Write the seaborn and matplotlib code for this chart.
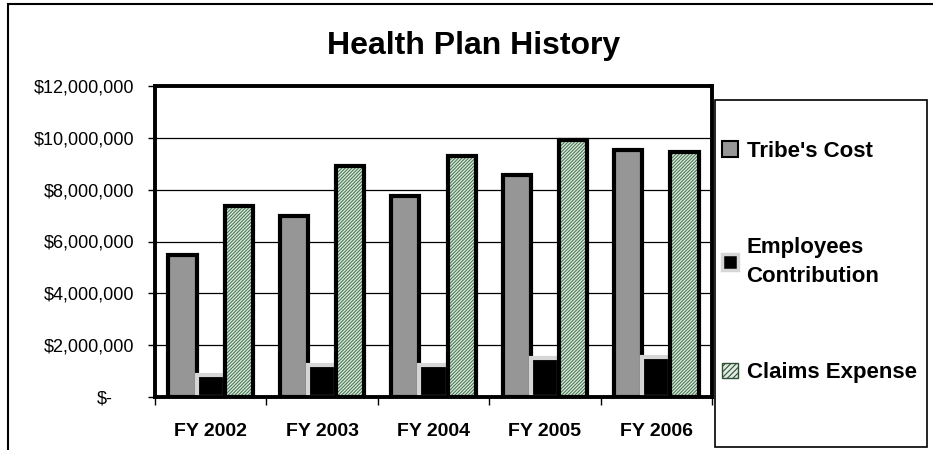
import numpy as np
import pandas as pd
import matplotlib
matplotlib.use("Agg")
import matplotlib.pyplot as plt
import matplotlib.transforms as mtransforms
from matplotlib.patches import Rectangle, Patch
from matplotlib.ticker import FuncFormatter
import seaborn as sns

# data
years = ["FY 2002", "FY 2003", "FY 2004", "FY 2005", "FY 2006"]
tribes_cost = [5_480_000, 6_970_000, 7_760_000, 8_570_000, 9_540_000]
employees_contrib = [830_000, 1_240_000, 1_230_000, 1_490_000, 1_530_000]
claims_expense = [7_370_000, 8_920_000, 9_300_000, 9_920_000, 9_460_000]
series = ["Tribe's Cost", "Employees\nContribution", "Claims Expense"]

df = pd.DataFrame({
    "year": years * 3,
    "series": [series[0]] * 5 + [series[1]] * 5 + [series[2]] * 5,
    "value": tribes_cost + employees_contrib + claims_expense,
})

sns.set_style("white")
plt.rcParams["font.family"] = ["Liberation Sans", "DejaVu Sans"]
plt.rcParams["hatch.linewidth"] = 0.8
for k in ["text.color", "xtick.color", "ytick.color", "axes.labelcolor"]:
    plt.rcParams[k] = "black"

fig = plt.figure(figsize=(9.33, 4.5), dpi=100)
ax = fig.add_axes([155 / 933, 1 - 397 / 450, 557 / 933, 311 / 450])

palette = {series[0]: "#969696", series[1]: "black", series[2]: "#e0ece0"}
sns.barplot(data=df, x="year", y="value", hue="series", hue_order=series,
            palette=palette, width=0.76, saturation=1, legend=False, ax=ax)

# style the bars per series
tribe_bars, emp_bars, claim_bars = ax.containers
for p in tribe_bars:
    p.set_edgecolor("black")
    p.set_linewidth(3)
for p in emp_bars:
    p.set_edgecolor("#d6d6d6")
    p.set_linewidth(3)
for p in claim_bars:
    p.set_edgecolor("#4a7a56")
    p.set_linewidth(0)
    p.set_hatch("//////////")
    ax.add_patch(Rectangle((p.get_x(), p.get_y()), p.get_width(), p.get_height(),
                           fill=False, ec="black", lw=3, zorder=p.get_zorder() + 0.1))

ax.set_ylim(0, 12_000_000)
ax.set_xlim(-0.5, 4.5)
ax.set_yticks(np.arange(0, 12_000_001, 2_000_000))
ax.yaxis.set_major_formatter(FuncFormatter(lambda v, _: "$-" if v == 0 else f"${v:,.0f}"))
ax.grid(axis="y", color="black", lw=0.9)
ax.set_axisbelow(True)
ax.set_xlabel("")
ax.set_ylabel("")

for s in ax.spines.values():
    s.set_visible(True)
    s.set_color("black")
    s.set_linewidth(2.8)

ax.tick_params(axis="y", left=True, length=5, width=1, pad=10, labelsize=13, direction="out")
ax.tick_params(axis="x", which="major", length=0, pad=19, labelsize=14)
ax.set_xticks(np.arange(-0.5, 5, 1), minor=True)
ax.tick_params(axis="x", which="minor", bottom=True, length=6, width=1, direction="out")
for lab in ax.get_xticklabels():
    lab.set_fontweight("bold")

# accounting-style zero label sits further left
zero_lab = ax.get_yticklabels()[0]
zero_lab.set_transform(zero_lab.get_transform() +
                       mtransforms.ScaledTranslation(-21 / 100, 0, fig.dpi_scale_trans))

fig.text(474 / 933, 1 - 46 / 450, "Health Plan History", ha="center", va="center",
         fontsize=23, fontweight="bold")

# legend
handles = [
    Patch(facecolor="#969696", edgecolor="black", lw=1.5),
    Patch(facecolor="black", edgecolor="#d6d6d6", lw=2.5),
    Patch(facecolor="#e0ece0", edgecolor="#2f4f36", lw=1.0, hatch="//////"),
]
leg = fig.legend(handles, series, loc="center left", bbox_to_anchor=(711 / 933, 1 - 262 / 450),
                 frameon=False, borderpad=0, labelspacing=3.4, handlelength=0.7,
                 handleheight=0.7, handletextpad=0.4, prop={"size": 16, "weight": "bold"})
leg.get_texts()[1].set_linespacing(1.45)
fig.patches.append(Rectangle((715 / 933, 1 - 447 / 450), 212 / 933, 347 / 450,
                             transform=fig.transFigure, fill=False, ec="black", lw=1.2))
# outer chart frame
fig.patches.append(Rectangle((8 / 933, -0.1), 1.0, 1.1 - 4 / 450,
                             transform=fig.transFigure, fill=False, ec="black", lw=1.5))

fig.savefig("out.png", dpi=100, facecolor="white")
